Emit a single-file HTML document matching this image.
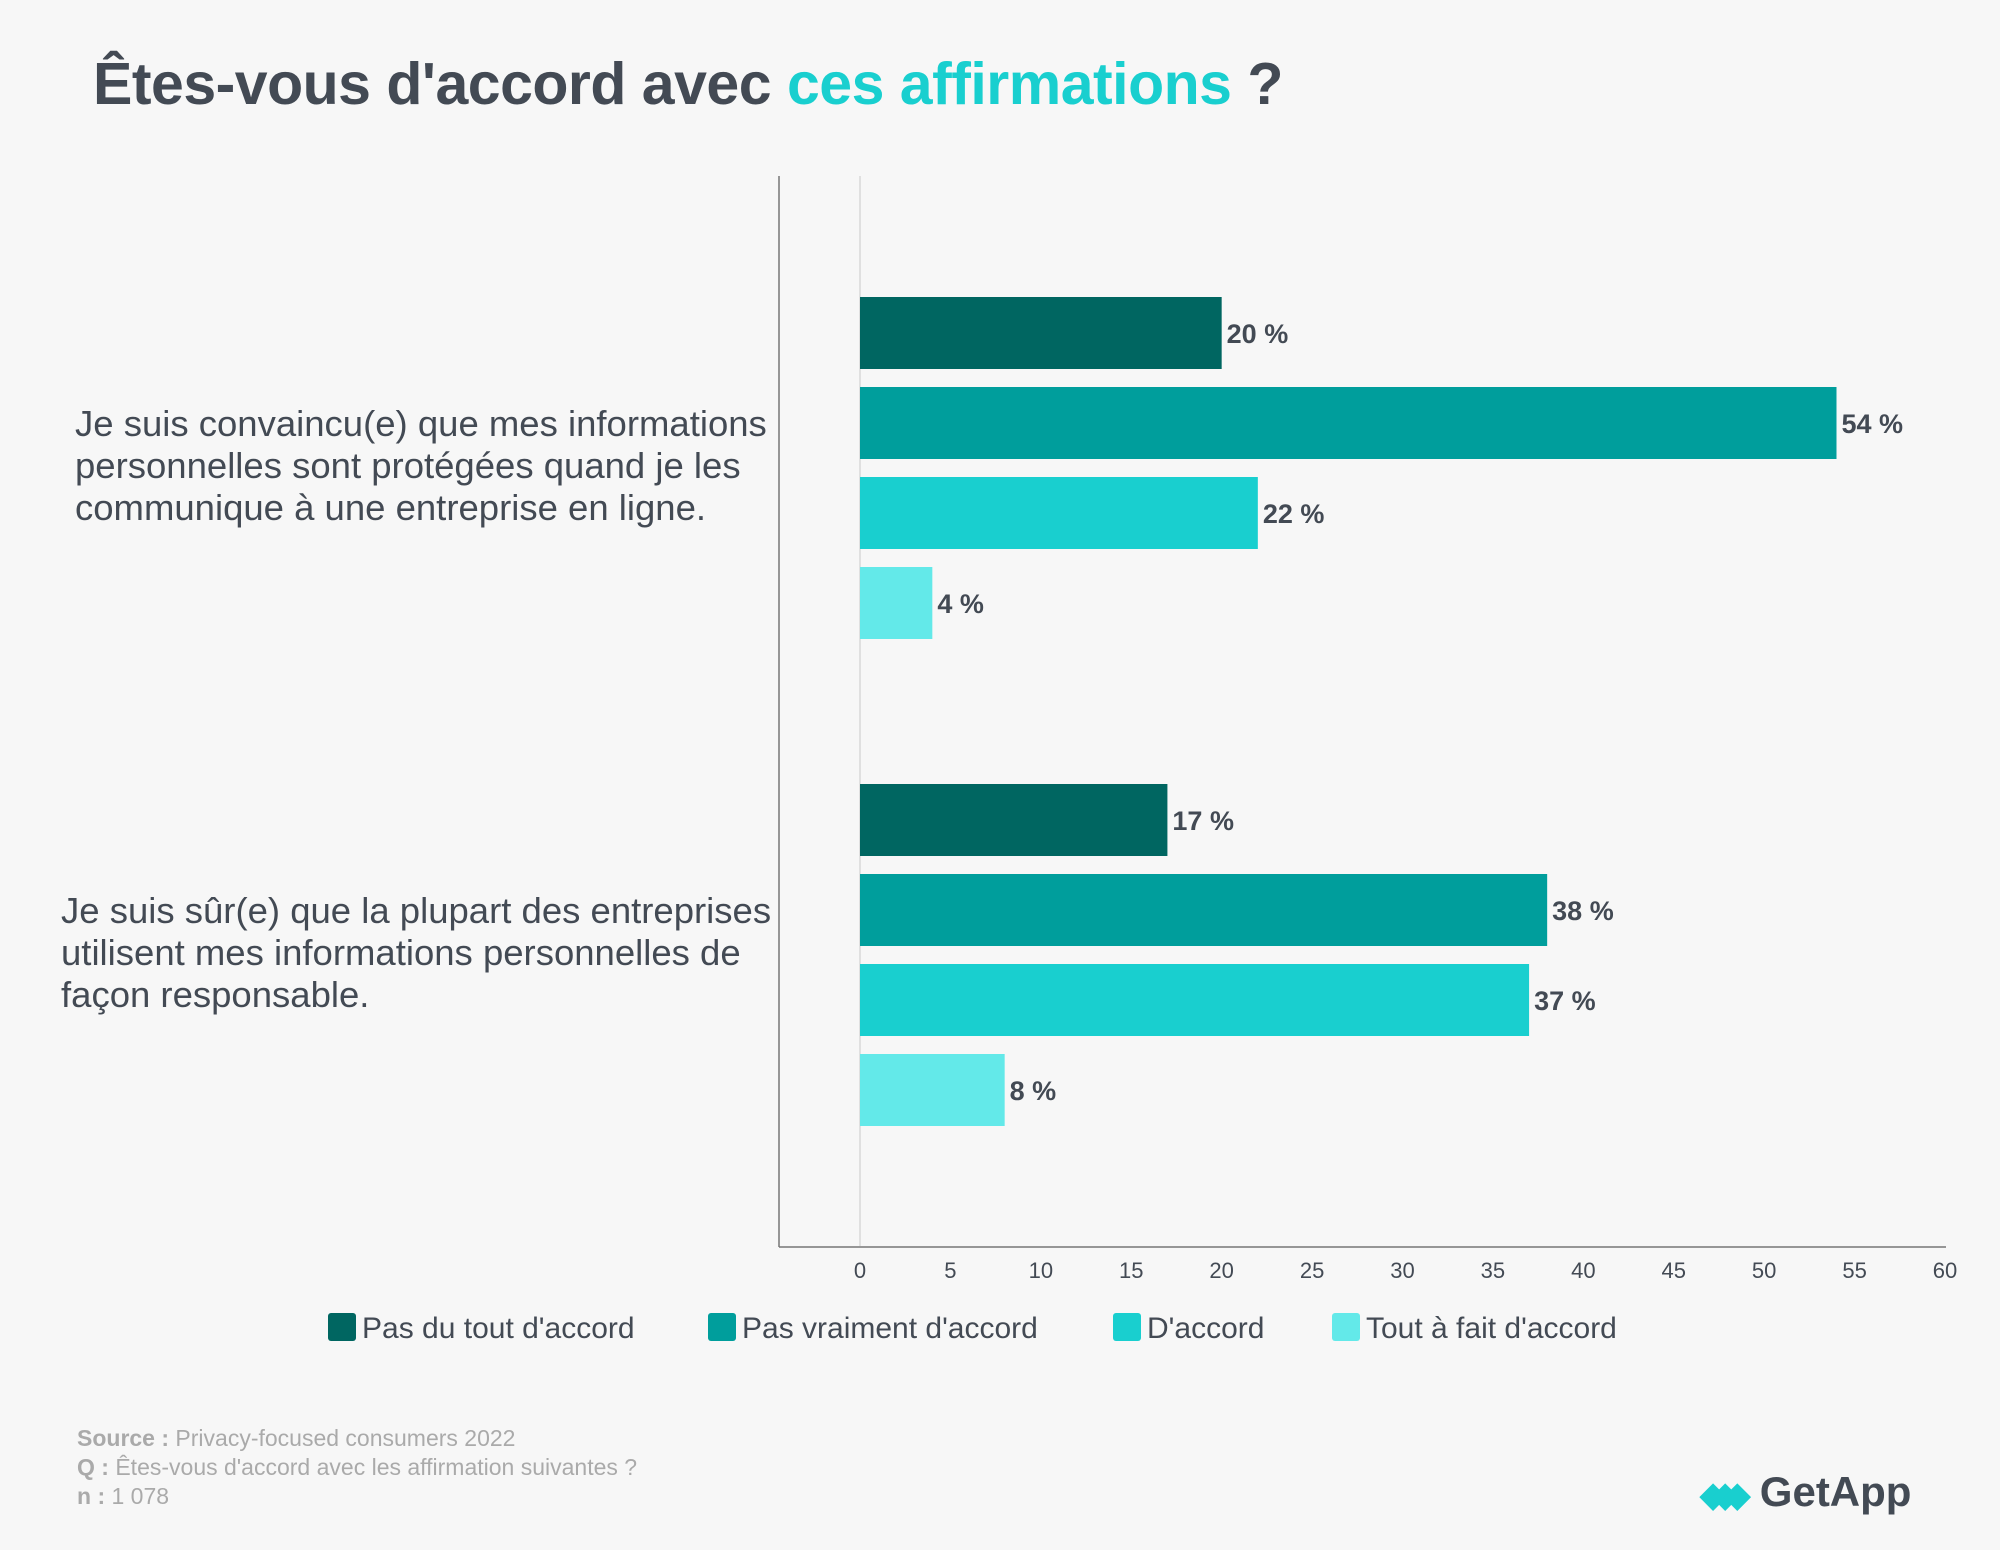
<!DOCTYPE html>
<html><head><meta charset="utf-8"><style>
body{margin:0;background:#f7f7f7;font-family:"Liberation Sans",sans-serif;}
#wrap{position:relative;width:2000px;height:1550px;overflow:hidden;background:#f7f7f7}
.t{position:absolute;white-space:nowrap}
</style></head><body><div id="wrap">
<div class="t" style="left:93px;top:50px;font-size:59px;font-weight:bold;color:#434a54;letter-spacing:-0.5px">Êtes-vous d'accord avec <span style="color:#19cfcf">ces affirmations</span> ?</div>
<svg id="chart" width="2000" height="1550" style="position:absolute;left:0;top:0"></svg>
<div class="t" style="left:77px;top:1424px;font-size:23px;color:#aaa;line-height:29px"><b>Source :</b> Privacy-focused consumers 2022<br><b>Q :</b> Êtes-vous d'accord avec les affirmation suivantes ?<br><b>n :</b> 1 078</div>
<div class="t" style="left:1700px;top:1468px;font-size:42px;font-weight:bold;color:#434a54"><span style="color:#19cfcf;font-size:34px;letter-spacing:-14px">◆◆◆</span>&nbsp; GetApp</div>
</div>
<script>
const categories=[["Je suis convaincu(e) que mes informations","personnelles sont protégées quand je les","communique à une entreprise en ligne."],["Je suis sûr(e) que la plupart des entreprises","utilisent mes informations personnelles de","façon responsable."]];
const seriesNames=["Pas du tout d'accord","Pas vraiment d'accord","D'accord","Tout à fait d'accord"];
const serPasDuTout=[20,17];
const serPasVraiment=[54,38];
const serDaccord=[22,37];
const serToutAFait=[4,8];
const ticks=[0,5,10,15,20,25,30,35,40,45,50,55,60];
const colors=["#006661","#009e9c","#19cfcf","#63e9e9"];
const NS="http://www.w3.org/2000/svg",svg=document.getElementById('chart');
const series=[serPasDuTout,serPasVraiment,serDaccord,serToutAFait];
const x0=860,x1=1945,xmax=60;
const X=v=>x0+(x1-x0)*v/xmax;
const groupTop=[297,784],barH=72,step=90,labelX=[75,61];
function mk(tag,a){const e=document.createElementNS(NS,tag);for(const k in a)e.setAttribute(k,a[k]);svg.appendChild(e);return e;}
let e=mk('line',{x1:x0,y1:176,x2:x0,y2:1246,stroke:'#d8d8d8','stroke-width':1.5});

e=mk('line',{x1:779,y1:176,x2:779,y2:1247,stroke:'#777','stroke-width':1.5});

e=mk('line',{x1:779,y1:1247,x2:1946,y2:1247,stroke:'#777','stroke-width':1.5});

ticks.forEach(t=>{const l=mk('text',{x:X(t),y:1278,'text-anchor':'middle','font-size':22,fill:'#434a54'});l.textContent=t;
});
categories.forEach((lines,g)=>{
 const cy=groupTop[g]+step*1.5+barH/2;
 lines.forEach((ln,i)=>{const t=mk('text',{x:labelX[g],y:cy-43+i*42+11,'text-anchor':'start','font-size':36.5,fill:'#434a54'});t.textContent=ln;
 });
 series.forEach((s,i)=>{const y=groupTop[g]+i*step;
  const r=mk('rect',{x:x0,y:y,width:X(s[g])-x0,height:barH,fill:colors[i]});
  
  const v=mk('text',{x:X(s[g])+5,y:y+barH/2+10,'font-size':27,'font-weight':'bold',fill:'#434a54'});v.textContent=s[g]+' %';
  });
});
const lx=[328,708,1113,1332];
seriesNames.forEach((n,i)=>{const r=mk('rect',{x:lx[i],y:1313,width:28,height:28,rx:3,fill:colors[i]});
 
 const t=mk('text',{x:lx[i]+34,y:1338,'font-size':30,fill:'#434a54'});t.textContent=n;
 });
</script></body></html>
